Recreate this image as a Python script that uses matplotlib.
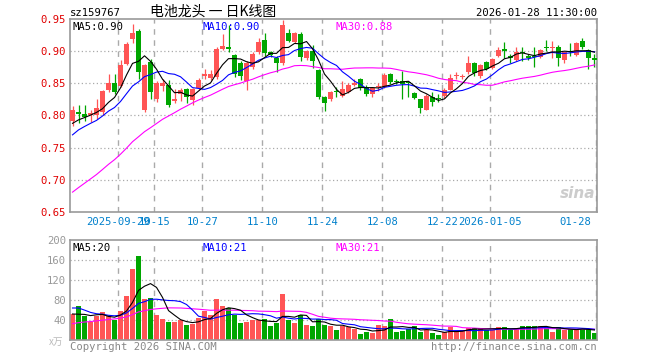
import matplotlib
matplotlib.use("Agg")
import matplotlib.pyplot as plt
import numpy as np
import pandas as pd

# ---------------- data ----------------
symbol = "sz159767"
title = "电池龙头 一 日K线图"
stamp = "2026-01-28 11:30:00"

dates = [d.strftime("%Y-%m-%d") for d in pd.bdate_range("2025-09-17", "2026-01-28")
         if not ("2025-10-01" <= d.strftime("%Y-%m-%d") <= "2025-10-08")
         and d.strftime("%Y-%m-%d") not in ("2026-01-01", "2026-01-02")]

tick_dates = ["2025-09-29", "2025-10-15", "2025-10-27", "2025-11-10", "2025-11-24",
              "2025-12-08", "2025-12-22", "2026-01-05", "2026-01-28"]
tick_labels = ["2025-09-29", "10-15", "10-27", "11-10", "11-24",
               "12-08", "12-22", "2026-01-05", "01-28"]

opens = [0.791, 0.806, 0.802, 0.801, 0.801, 0.805, 0.839, 0.851, 0.846, 0.880,
         0.919, 0.932, 0.809, 0.883, 0.825, 0.846, 0.848, 0.823, 0.834, 0.841,
         0.824, 0.843, 0.862, 0.859, 0.860, 0.904, 0.907, 0.894, 0.881, 0.854,
         0.875, 0.898, 0.917, 0.899, 0.890, 0.881, 0.929, 0.914, 0.927, 0.889,
         0.900, 0.871, 0.828, 0.825, 0.838, 0.830, 0.837, 0.848, 0.856, 0.845,
         0.834, 0.844, 0.844, 0.865, 0.853, 0.854, 0.852, 0.835, 0.825, 0.809,
         0.829, 0.827, 0.830, 0.840, 0.861, 0.860, 0.867, 0.881, 0.861, 0.883,
         0.874, 0.893, 0.903, 0.893, 0.886, 0.899, 0.893, 0.892, 0.891, 0.907,
         0.905, 0.907, 0.887, 0.901, 0.894, 0.916, 0.902, 0.890]
highs = [0.814, 0.817, 0.816, 0.809, 0.825, 0.840, 0.864, 0.865, 0.886, 0.914,
         0.942, 0.934, 0.880, 0.888, 0.853, 0.856, 0.855, 0.841, 0.843, 0.843,
         0.843, 0.858, 0.872, 0.870, 0.906, 0.926, 0.941, 0.896, 0.884, 0.884,
         0.899, 0.921, 0.929, 0.901, 0.892, 0.948, 0.934, 0.930, 0.930, 0.902,
         0.910, 0.873, 0.830, 0.838, 0.845, 0.854, 0.850, 0.856, 0.858, 0.847,
         0.845, 0.850, 0.866, 0.866, 0.856, 0.869, 0.853, 0.836, 0.826, 0.834,
         0.836, 0.833, 0.843, 0.864, 0.867, 0.865, 0.893, 0.883, 0.880, 0.885,
         0.890, 0.906, 0.914, 0.896, 0.906, 0.906, 0.896, 0.906, 0.904, 0.917,
         0.916, 0.909, 0.900, 0.912, 0.914, 0.920, 0.904, 0.895]
lows = [0.783, 0.788, 0.791, 0.790, 0.794, 0.800, 0.836, 0.833, 0.845, 0.878,
        0.913, 0.856, 0.806, 0.826, 0.821, 0.838, 0.813, 0.819, 0.823, 0.820,
        0.817, 0.840, 0.856, 0.855, 0.857, 0.902, 0.899, 0.860, 0.855, 0.840,
        0.872, 0.896, 0.893, 0.891, 0.868, 0.879, 0.914, 0.912, 0.885, 0.887,
        0.874, 0.826, 0.807, 0.822, 0.829, 0.828, 0.835, 0.846, 0.840, 0.831,
        0.828, 0.838, 0.842, 0.849, 0.849, 0.826, 0.828, 0.825, 0.804, 0.808,
        0.815, 0.821, 0.827, 0.839, 0.856, 0.856, 0.864, 0.862, 0.858, 0.870,
        0.872, 0.891, 0.890, 0.882, 0.884, 0.885, 0.887, 0.876, 0.889, 0.900,
        0.889, 0.877, 0.882, 0.893, 0.892, 0.904, 0.873, 0.875]
closes = [0.809, 0.802, 0.798, 0.804, 0.811, 0.838, 0.851, 0.836, 0.879, 0.911,
          0.928, 0.867, 0.879, 0.836, 0.850, 0.850, 0.816, 0.825, 0.840, 0.829,
          0.841, 0.855, 0.864, 0.864, 0.903, 0.908, 0.903, 0.864, 0.861, 0.882,
          0.896, 0.914, 0.897, 0.894, 0.882, 0.940, 0.916, 0.928, 0.891, 0.900,
          0.884, 0.828, 0.819, 0.836, 0.836, 0.841, 0.848, 0.850, 0.843, 0.834,
          0.842, 0.845, 0.863, 0.852, 0.852, 0.849, 0.850, 0.827, 0.812, 0.831,
          0.821, 0.826, 0.839, 0.859, 0.863, 0.862, 0.881, 0.866, 0.878, 0.872,
          0.888, 0.902, 0.901, 0.889, 0.898, 0.897, 0.890, 0.891, 0.902, 0.905,
          0.906, 0.889, 0.898, 0.898, 0.912, 0.906, 0.890, 0.886]
volumes = [52, 68, 48, 36, 48, 56, 48, 40, 58, 88, 142, 168, 82, 84, 50, 42, 36, 36, 40, 30,
           32, 44, 58, 50, 82, 68, 64, 50, 34, 36, 40, 40, 42, 28, 34, 92, 40, 34, 50, 30,
           28, 42, 30, 28, 20, 28, 26, 22, 12, 16, 14, 30, 28, 42, 16, 18, 22, 28, 16, 20,
           14, 10, 16, 26, 18, 18, 24, 24, 24, 20, 20, 26, 26, 20, 22, 28, 28, 28, 28, 24,
           16, 26, 20, 22, 20, 22, 22, 14]

# closes / volumes of the 29 sessions before the window (only used to seed the moving averages)
prior_closes = [0.590, 0.596, 0.601, 0.606, 0.603, 0.611, 0.618, 0.624, 0.630, 0.627,
                0.636, 0.643, 0.650, 0.656, 0.652, 0.663, 0.670, 0.677, 0.684, 0.690,
                0.725, 0.745, 0.755, 0.765, 0.770, 0.775, 0.780, 0.785, 0.790]
prior_volumes = [8, 10, 7, 9, 12, 8, 6, 9, 11, 7, 10, 8, 9, 12, 10, 9,
                 40, 45, 52, 58, 68, 90, 82, 75, 65, 70, 50, 48, 40]

# ---------------- styles ----------------
RED = "#FF5555"
GREEN = "#00A600"
GRID = "#AAAAAA"
BORDER = "#999999"
MA_COLORS = {5: "#000000", 10: "#0000FF", 30: "#FF00FF"}
MONO = ["DejaVu Sans Mono", "Noto Sans CJK SC"]
plt.rcParams["font.family"] = MONO

W, H = 660, 360
fig = plt.figure(figsize=(W / 100, H / 100), dpi=100)
fig.patch.set_facecolor("white")


def rect(x0, y0, x1, y1):
    return [x0 / W, 1 - y1 / H, (x1 - x0) / W, (y1 - y0) / H]


ax = fig.add_axes(rect(70, 19, 597, 212))
axv = fig.add_axes(rect(70, 240, 597, 340))

n = len(closes)
x = np.arange(n)
o, h, l, c, v = map(np.array, (opens, highs, lows, closes, volumes))
up = c >= o
cols = np.where(up, RED, GREEN)

all_c = pd.Series(prior_closes + closes)
all_v = pd.Series(prior_volumes + volumes)
ma_p = {k: all_c.rolling(k).mean().to_numpy()[-n:] for k in (5, 10, 30)}
ma_v = {k: all_v.rolling(k).mean().to_numpy()[-n:] for k in (5, 10, 30)}

xl = (-0.42, n - 1 + 0.42)
tick_pos = [dates.index(d) - 0.37 for d in tick_dates]
tick_pos[-1] = xl[1] - 0.2

for a in (ax, axv):
    a.set_xlim(*xl)
    for s in a.spines.values():
        s.set_color(BORDER)
        s.set_linewidth(1.2)
    a.set_xticks([])
    for p in tick_pos:
        a.axvline(p, color=GRID, lw=1.0, ls=(0, (4, 4)), zorder=0)
    a.tick_params(axis="y", length=0, pad=3)

# ---- price panel ----
ax.set_ylim(0.65, 0.95)
yt = [0.65, 0.70, 0.75, 0.80, 0.85, 0.90, 0.95]
ax.set_yticks(yt)
ax.set_yticklabels([f"{t:.2f}" for t in yt], color="#E00000", fontsize=7.6)
for t in yt[1:-1]:
    ax.axhline(t, color=GRID, lw=0.9, ls=(0, (1, 2)), zorder=0)

ax.vlines(x, l, h, colors=cols, lw=0.9, zorder=2)
body = np.maximum(np.abs(c - o), 0.0012)
ax.bar(x, body, bottom=np.minimum(o, c), width=0.83, color=cols, lw=0, zorder=3)
for k in (30, 10, 5):
    ax.plot(x, ma_p[k], color=MA_COLORS[k], lw=0.8, zorder=4)

lab_x = {5: 0.004, 10: 0.252, 30: 0.503}
for k in (5, 10, 30):
    ax.text(lab_x[k], 0.985, f"MA{k}:{ma_p[k][-1]:.2f}", transform=ax.transAxes,
            color=MA_COLORS[k], fontsize=7.6, va="top", ha="left", zorder=6)

for i, (p, t) in enumerate(zip(tick_pos, tick_labels)):
    last = i == len(tick_pos) - 1
    ax.text(p - (0.8 if last else 0), -0.025, t, transform=ax.get_xaxis_transform(),
            color="#0080CC", fontsize=7.6, ha="right" if last else "center", va="top")

# ---- volume panel ----
axv.set_ylim(0, 200)
vt = [40, 80, 120, 160, 200]
axv.set_yticks(vt)
axv.set_yticklabels([str(t) for t in vt], color="#999999", fontsize=7.6)
for t in vt[:-1]:
    axv.axhline(t, color=GRID, lw=0.9, ls=(0, (1, 2)), zorder=0)
axv.bar(x, v, width=0.83, color=cols, lw=0, zorder=2)
for k in (30, 10, 5):
    axv.plot(x, ma_v[k], color=MA_COLORS[k], lw=0.8, zorder=4)
for k in (5, 10, 30):
    axv.text(lab_x[k], 0.97, f"MA{k}:{ma_v[k][-1]:.0f}", transform=axv.transAxes,
             color=MA_COLORS[k], fontsize=7.6, va="top", ha="left", zorder=6)

# ---- figure texts ----
fig.text(70 / W, 1 - 13 / H, symbol, fontsize=7.6, color="black", va="center", ha="left")
fig.text(213 / W, 1 - 12 / H, title, fontsize=10, color="black", va="center", ha="center",
         family=["Noto Sans CJK SC", "DejaVu Sans"])
fig.text(597 / W, 1 - 13 / H, stamp, fontsize=7.6, color="black", va="center", ha="right")
fig.text(70 / W, 1 - 347 / H, "Copyright 2026 SINA.COM", fontsize=7.6, color="#888888",
         va="center", ha="left")
fig.text(597 / W, 1 - 347 / H, "http://finance.sina.com.cn", fontsize=7.6, color="#888888",
         va="center", ha="right")
fig.text(49 / W, 1 - 342 / H, "x万", fontsize=7, color="#BBBBBB", va="center", ha="left",
         family=["Noto Sans CJK SC", "DejaVu Sans"])
fig.text(578 / W, 1 - 194 / H, "sina", fontsize=11, color="#CCCCCC", style="italic",
         weight="bold", va="center", ha="center", family=["DejaVu Sans"])

fig.savefig("out.png", dpi=100, facecolor="white")
